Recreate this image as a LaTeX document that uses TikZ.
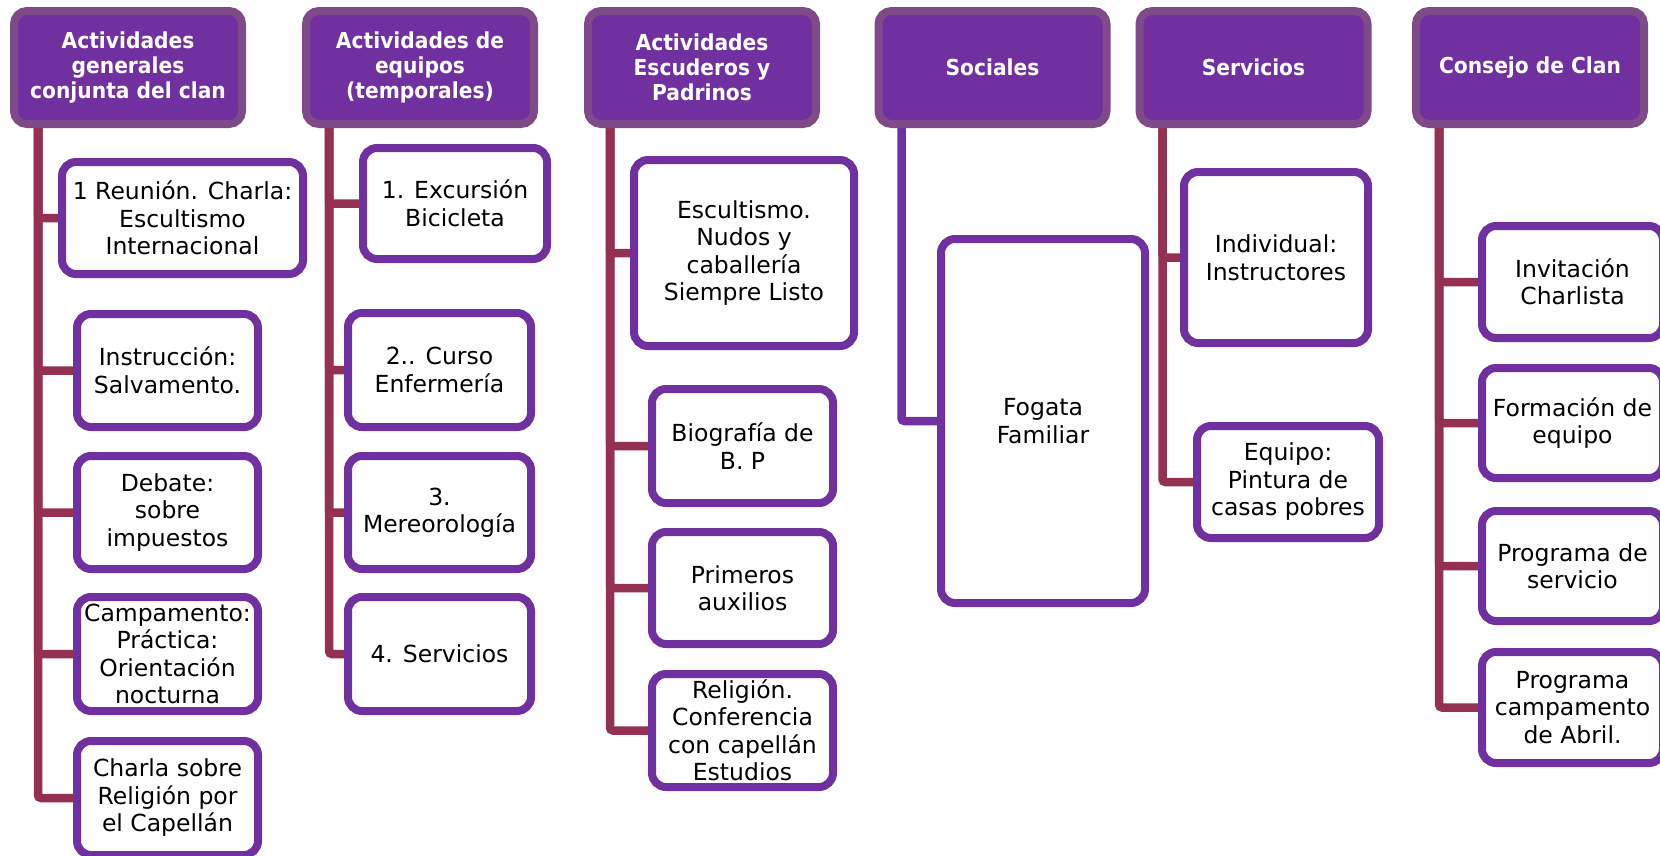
\documentclass[tikz,border=0pt]{standalone}
\usepackage{fontspec}
\setmainfont{DejaVu Sans}
\newfontfamily\hdfont{DejaVu Sans}[FakeStretch=0.92]
\definecolor{hdfill}{RGB}{112,48,160}
\definecolor{hdline}{RGB}{126,75,136}
\definecolor{chline}{RGB}{112,48,160}
\definecolor{conncol}{RGB}{148,48,82}
\begin{document}
\begin{tikzpicture}[x=1pt,y=-1pt,
  hdr/.style={draw=hdline, fill=hdfill, line width=8pt, rounded corners=13pt,
    text=white, align=center, inner sep=0pt,
    minimum width=228pt, minimum height=113pt,
    font=\hdfont\bfseries\fontsize{22}{25}\selectfont},
  child/.style={draw=chline, fill=white, line width=8pt, rounded corners=14pt,
    text=black, align=center, inner sep=0pt,
    font=\fontsize{23.5}{27.5}\selectfont},
  conn/.style={draw=conncol, line width=8.5pt, rounded corners=3pt},
  connp/.style={draw=chline, line width=8.5pt, rounded corners=3pt}]
\useasboundingbox (0,0) rectangle (1660,855);
\fill[white] (0,0) rectangle (1660,855);

% headers
\node[hdr] (h1) at (128,67.5) {Actividades\\generales\\conjunta del clan};
\node[hdr] (h2) at (420,67.5) {Actividades de\\equipos\\(temporales)};
\node[hdr] (h3) at (702,67.5) {Actividades\\Escuderos y\\Padrinos};
\node[hdr] (h4) at (992.5,67.5) {Sociales};
\node[hdr] (h5) at (1253.5,67.5) {Servicios};
\node[hdr] (h6) at (1530,67.5) {Consejo de Clan};

% column 1
\node[child, minimum width=241pt, minimum height=112pt] (c1) at (182.5,218) {1 Reunión. Charla:\\Escultismo\\Internacional};
\node[child, minimum width=181pt, minimum height=113pt] (c2) at (167.5,370.5) {Instrucción:\\Salvamento.};
\node[child, minimum width=181pt, minimum height=113pt] (c3) at (167.5,512.5) {Debate:\\sobre\\impuestos};
\node[child, minimum width=181pt, minimum height=114pt] (c4) at (167.5,654) {Campamento:\\Práctica:\\Orientación\\nocturna};
\node[child, minimum width=181pt, minimum height=114pt] (c5) at (167.5,798) {Charla sobre\\Religión por\\el Capellán};

% column 2
\node[child, minimum width=184pt, minimum height=111pt] (d1) at (455,203.5) {1. Excursión\\Bicicleta};
\node[child, minimum width=183pt, minimum height=114pt] (d2) at (439.5,370) {2.. Curso\\Enfermería};
\node[child, minimum width=183pt, minimum height=113pt] (d3) at (439.5,512.5) {3.\\Mereorología};
\node[child, minimum width=183pt, minimum height=114pt] (d4) at (439.5,654) {4. Servicios};

% column 3
\node[child, minimum width=220pt, minimum height=186pt] (e1) at (744,253) {Escultismo.\\Nudos y\\caballería\\Siempre Listo};
\node[child, minimum width=181pt, minimum height=114pt] (e2) at (742.5,446) {Biografía de\\B. P};
\node[child, minimum width=181pt, minimum height=112pt] (e3) at (742.5,588) {Primeros\\auxilios};
\node[child, minimum width=181pt, minimum height=113pt] (e4) at (742.5,730.5) {Religión.\\Conferencia\\con capellán\\Estudios};

% column 4
\node[child, minimum width=204pt, minimum height=364pt] (fg) at (1043,421) {Fogata\\Familiar};

% column 5
\node[child, minimum width=184pt, minimum height=171pt] (f1) at (1276,257.5) {Individual:\\Instructores};
\node[child, minimum width=182pt, minimum height=112pt] (f2) at (1288,482) {Equipo:\\Pintura de\\casas pobres};

% column 6
\node[child, minimum width=181pt, minimum height=112pt] (g1) at (1572.5,282) {Invitación\\Charlista};
\node[child, minimum width=181pt, minimum height=110pt] (g2) at (1572.5,423) {Formación de\\equipo};
\node[child, minimum width=181pt, minimum height=110pt] (g3) at (1572.5,566) {Programa de\\servicio};
\node[child, minimum width=181pt, minimum height=111pt] (g4) at (1572.5,707.5) {Programa\\campamento\\de Abril.};

% connectors
\foreach \c in {c1,c2,c3,c4,c5}
  \draw[conn] ([xshift=28pt]h1.south west) |- (\c.west);
\foreach \c in {d1,d2,d3,d4}
  \draw[conn] ([xshift=27pt]h2.south west) |- (\c.west);
\foreach \c in {e1,e2,e3,e4}
  \draw[conn] ([xshift=26pt]h3.south west) |- (\c.west);
\draw[connp] ([xshift=27pt]h4.south west) |- (fg.west);
\foreach \c in {f1,f2}
  \draw[conn] ([xshift=27pt]h5.south west) |- (\c.west);
\foreach \c in {g1,g2,g3,g4}
  \draw[conn] ([xshift=27pt]h6.south west) |- (\c.west);
\end{tikzpicture}
\end{document}
